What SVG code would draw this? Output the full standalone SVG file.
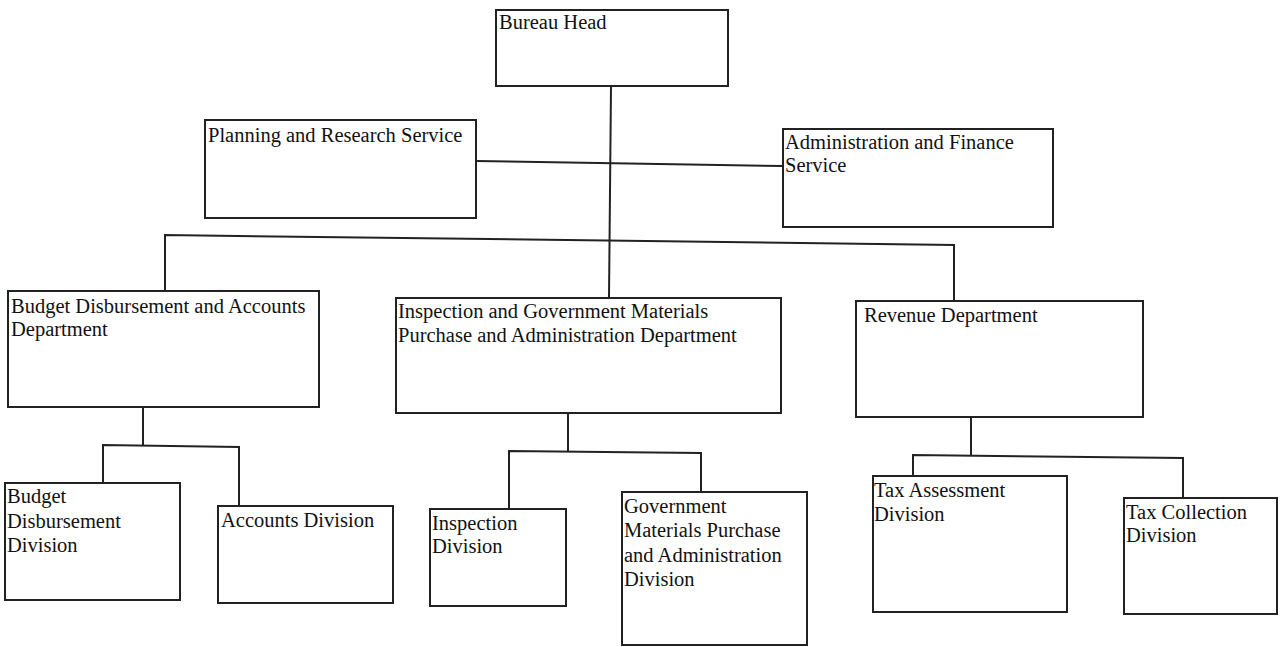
<svg xmlns="http://www.w3.org/2000/svg" width="1281" height="647" viewBox="0 0 1281 647">
<style>
.box{fill:#fff;stroke:#222;stroke-width:2}
.ln{fill:none;stroke:#222;stroke-width:2}
.t{font-family:'Liberation Serif','Times New Roman',Tinos,'DejaVu Serif',serif;font-size:20.5px;fill:#111}
</style>
<rect width="1281" height="647" fill="#fff"/>
<g id="connectors">
<path class="ln" d="M611,87 L609,298"/>
<path class="ln" d="M476,161 L783,166"/>
<path class="ln" d="M165,291 L165,235 L954,245 L954,301"/>
<path class="ln" d="M143,408 L143,446"/>
<path class="ln" d="M103,483 L103,445 L239,447 L239,506"/>
<path class="ln" d="M568,414 L568,451"/>
<path class="ln" d="M509,509 L509,451 L701,453 L701,492"/>
<path class="ln" d="M971,417 L971,456"/>
<path class="ln" d="M913,476 L913,455 L1183,458 L1183,498"/>
</g>
<g id="bureau-head">
<rect class="box" x="496" y="10" width="232" height="76"/>
<text class="t" x="499" y="29">Bureau Head</text>
</g>
<g id="planning">
<rect class="box" x="205" y="120" width="271" height="98"/>
<text class="t" x="208" y="142">Planning and Research Service</text>
</g>
<g id="admin-finance">
<rect class="box" x="783" y="129" width="270" height="98"/>
<text class="t" x="785" y="149">Administration and Finance</text>
<text class="t" x="785" y="172">Service</text>
</g>
<g id="budget-dept">
<rect class="box" x="8" y="291" width="311" height="116"/>
<text class="t" x="11" y="313">Budget Disbursement and Accounts</text>
<text class="t" x="11" y="336">Department</text>
</g>
<g id="inspection-dept">
<rect class="box" x="396" y="298" width="385" height="115"/>
<text class="t" x="398" y="318">Inspection and Government Materials</text>
<text class="t" x="398" y="342">Purchase and Administration Department</text>
</g>
<g id="revenue-dept">
<rect class="box" x="856" y="301" width="287" height="116"/>
<text class="t" x="864" y="322">Revenue Department</text>
</g>
<g id="budget-div">
<rect class="box" x="5" y="483" width="175" height="117"/>
<text class="t" x="7" y="503">Budget</text>
<text class="t" x="7" y="528">Disbursement</text>
<text class="t" x="7" y="552">Division</text>
</g>
<g id="accounts-div">
<rect class="box" x="218" y="506" width="175" height="97"/>
<text class="t" x="221" y="527">Accounts Division</text>
</g>
<g id="inspection-div">
<rect class="box" x="430" y="509" width="136" height="97"/>
<text class="t" x="432" y="530">Inspection</text>
<text class="t" x="432" y="553">Division</text>
</g>
<g id="gov-materials-div">
<rect class="box" x="622" y="492" width="185" height="153"/>
<text class="t" x="624" y="513">Government</text>
<text class="t" x="624" y="537">Materials Purchase</text>
<text class="t" x="624" y="562">and Administration</text>
<text class="t" x="624" y="586">Division</text>
</g>
<g id="tax-assessment-div">
<rect class="box" x="873" y="476" width="194" height="136"/>
<text class="t" x="874" y="497">Tax Assessment</text>
<text class="t" x="874" y="521">Division</text>
</g>
<g id="tax-collection-div">
<rect class="box" x="1124" y="498" width="153" height="116"/>
<text class="t" x="1126" y="519">Tax Collection</text>
<text class="t" x="1126" y="542">Division</text>
</g>
</svg>
